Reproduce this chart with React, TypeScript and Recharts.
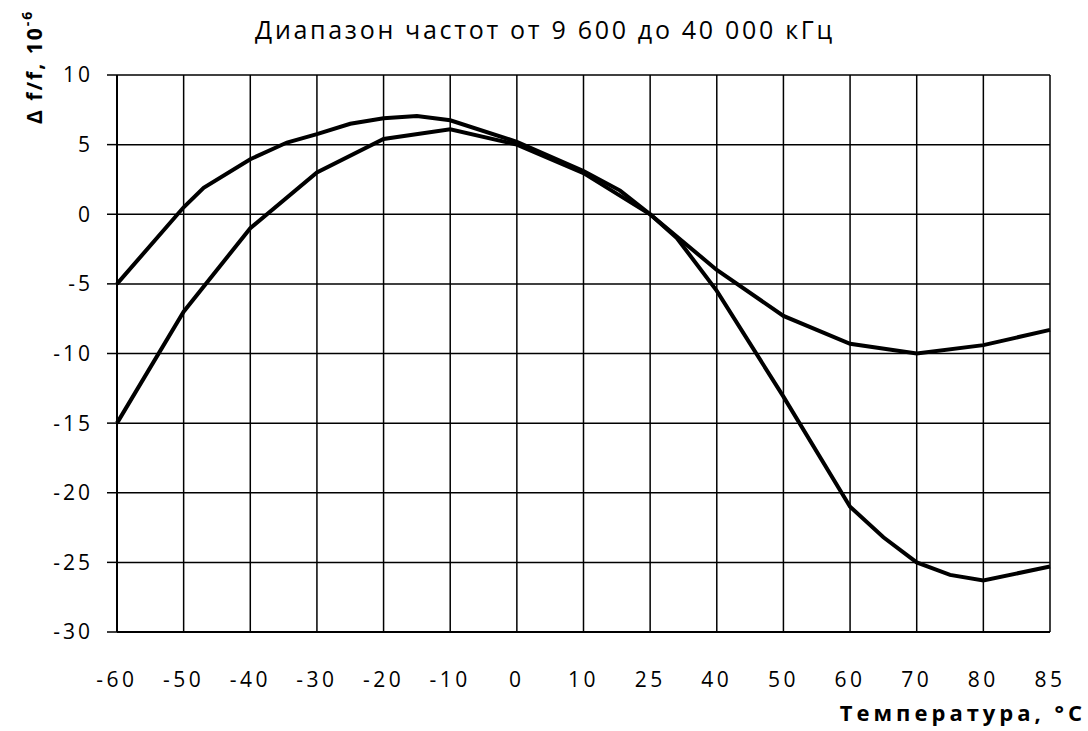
// @ts-nocheck
import React from 'react';
import { LineChart, Line, XAxis, YAxis, CartesianGrid } from 'recharts';

// Category labels of the temperature axis (equally spaced in the original)
const tempLabels = ['-60', '-50', '-40', '-30', '-20', '-10', '0', '10', '25', '40', '50', '60', '70', '80', '85'];
const yTicks = [-30, -25, -20, -15, -10, -5, 0, 5, 10];

// Curve starting at -5 (positions are category indexes)
const upperPos = [0, 1, 1.3, 2, 2.55, 3, 3.5, 4, 4.5, 5, 6, 7, 7.55, 8, 9, 10, 11, 12, 13, 14];
const upperVals = [-5, 0.5, 1.9, 3.95, 5.15, 5.75, 6.5, 6.9, 7.05, 6.75, 5.2, 3.1, 1.7, 0, -4.0, -7.3, -9.3, -10, -9.4, -8.3];

// Curve starting at -15
const lowerPos = [0, 1, 2, 3, 4, 5, 6, 7, 8, 8.4, 9, 10, 11, 11.5, 12, 12.5, 13, 14];
const lowerVals = [-15, -7, -1, 3, 5.4, 6.1, 5.0, 2.95, 0, -1.7, -5.5, -13.1, -21, -23.2, -25, -25.9, -26.3, -25.3];

const upperData = upperPos.map((x, i) => ({ x, v: upperVals[i] }));
const lowerData = lowerPos.map((x, i) => ({ x, v: lowerVals[i] }));

const font = "'Open Sans', sans-serif";

export default function App() {
    return (
        <div style={{ position: 'absolute', left: 0, top: 0, width: 1088, height: 731, background: '#fff' }}>
            <LineChart width={1088} height={731} margin={{ top: 75, right: 38, left: 0, bottom: 0 }}>
                <CartesianGrid stroke="#000" strokeWidth={1.5} />
                <XAxis
                    dataKey="x"
                    type="number"
                    domain={[0, 14]}
                    ticks={tempLabels.map((_, i) => i)}
                    interval={0}
                    tickFormatter={(i) => tempLabels[i]}
                    height={99}
                    tickLine={false}
                    tickMargin={34}
                    axisLine={{ stroke: '#000', strokeWidth: 2 }}
                    tick={{ fill: '#000', fontSize: 21, fontFamily: font, letterSpacing: 3.5 }}
                />
                <YAxis
                    type="number"
                    domain={[-30, 10]}
                    ticks={yTicks}
                    interval={0}
                    width={117}
                    tickSize={10}
                    tickMargin={14}
                    tickLine={{ stroke: '#000', strokeWidth: 1.5 }}
                    axisLine={{ stroke: '#000', strokeWidth: 2 }}
                    tick={{ fill: '#000', fontSize: 21, fontFamily: font, letterSpacing: 3 }}
                />
                <Line data={upperData} dataKey="v" type="linear" stroke="#000" strokeWidth={4} dot={false} isAnimationActive={false} />
                <Line data={lowerData} dataKey="v" type="linear" stroke="#000" strokeWidth={4} dot={false} isAnimationActive={false} />
            </LineChart>
            <svg width={1088} height={731} style={{ position: 'absolute', left: 0, top: 0, pointerEvents: 'none' }}>
                <text x={545} y={39} textAnchor="middle" fontSize={25} fontFamily={font} letterSpacing={2.7} fill="#000">
                    Диапазон частот от 9 600 до 40 000 кГц
                </text>
                <text transform="translate(42,124) rotate(-90)" fontSize={21} fontWeight="bold" fontFamily={font} letterSpacing={2} fill="#000">
                    Δ f/f, 10<tspan dy={-10} fontSize={14}>-6</tspan>
                </text>
                <text x={1086} y={721} textAnchor="end" fontSize={22} fontWeight="bold" fontFamily={font} letterSpacing={4} fill="#000">
                    Температура, °C
                </text>
            </svg>
        </div>
    );
}
